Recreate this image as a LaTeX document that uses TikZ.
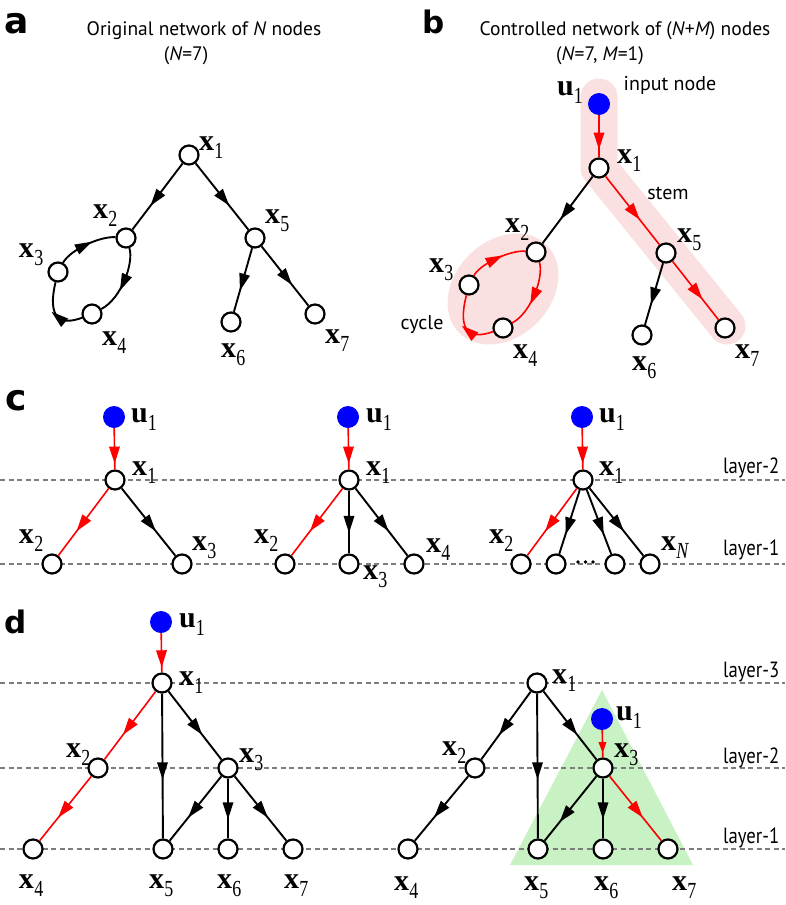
\documentclass[tikz,border=0pt]{standalone}
\usepackage{fontspec}
\usepackage{graphicx}
\setmainfont{Liberation Serif}
\newfontfamily\sansf{PT Sans}
\newfontfamily\heavyf{DejaVu Sans}
\usetikzlibrary{arrows.meta,decorations.markings}
\pgfdeclarelayer{bgA}
\pgfdeclarelayer{bgB}
\pgfsetlayers{bgA,bgB,main}
\definecolor{pinkc}{RGB}{250,224,224}
\definecolor{greenc}{RGB}{200,241,196}
\definecolor{dashc}{RGB}{125,125,125}
\newcommand{\sbx}[1]{\raisebox{-8pt}{\scalebox{0.78}[1]{\fontsize{23}{23}\selectfont #1}}}
\newcommand{\vx}[1]{{\fontsize{30}{30}\selectfont\bfseries x}\kern0.3pt\sbx{#1}}
\newcommand{\vu}[1]{{\fontsize{30}{30}\selectfont\bfseries u}\kern0.3pt\sbx{#1}}
\tikzset{
  nd/.style={circle, draw=black, line width=2.2pt, fill=white, minimum size=19pt, inner sep=0pt},
  inp/.style={circle, fill=blue, minimum size=22pt, inner sep=0pt},
  lab/.style={anchor=base west, inner sep=0pt, outer sep=0pt},
  ttl/.style={anchor=base, inner sep=0pt, font=\sansf\fontsize{19.5}{19.5}\selectfont},
  note/.style={inner sep=0pt, font=\sansf\fontsize{20}{20}\selectfont},
  lay/.style={anchor=base west, inner sep=0pt, font=\sansf\fontsize{22}{22}\selectfont},
  pla/.style={anchor=base west, inner sep=0pt, font=\heavyf\bfseries\fontsize{36}{36}\selectfont},
  plb/.style={anchor=base west, inner sep=0pt, font=\heavyf\bfseries\fontsize{31}{31}\selectfont},
  ahd/.style={decoration={markings, mark=at position #1 with {\fill (9pt,0pt) -- (-8pt,5.5pt) -- (-8pt,-5.5pt) -- cycle;}}, postaction={decorate}},
  ahs/.style={decoration={markings, mark=at position #1 with {\fill (6pt,0pt) -- (-5pt,4pt) -- (-5pt,-4pt) -- cycle;}}, postaction={decorate}},
  bedge/.style={black, line width=1.9pt, ahd=#1},
  bedge/.default=0.53,
  redge/.style={red, line width=1.6pt, ahd=#1},
  redge/.default=0.53,
  sredge/.style={red, line width=1.6pt, ahs=#1},
  sredge/.default=0.6,
  dline/.style={dashc, line width=1.2pt, dash pattern=on 5pt off 3.5pt},
  dotc/.style={circle, fill=black, minimum size=3.6pt, inner sep=0pt},
}
\begin{document}
\begin{tikzpicture}[x=1pt,y=-1pt]
\useasboundingbox (0,0) rectangle (785,905);

% ---------- panel letters and titles
\node[pla] (La) at (4,33) {a};
\node[plb] (Lb) at (422,33) {b};
\node[pla] (Lc) at (5,410) {c};
\node[plb] (Ld) at (4,633) {d};
\node[ttl] (ta1) at (204,35) {Original network of \textit{N} nodes};
\node[ttl] (ta2) at (186,60) {(\textit{N}=7)};
\node[ttl] (tb1) at (625,35) {Controlled network of (\textit{N}+\textit{M}) nodes};
\node[ttl] (tb2) at (600,60) {(\textit{N}=7, \textit{M}=1)};

% ---------- panel a
\node[nd] (a1) at (189,155) {};
\node[nd] (a2) at (126,238) {};
\node[nd] (a3) at (58,272) {};
\node[nd] (a4) at (92,314) {};
\node[nd] (a5) at (255,238) {};
\node[nd] (a6) at (231,322) {};
\node[nd] (a7) at (315,314) {};
\node[lab] (la1) at (199,150) {\vx{1}};
\node[lab] (la2) at (93,218) {\vx{2}};
\node[lab] (la3) at (19,257) {\vx{3}};
\node[lab] (la4) at (102,345) {\vx{4}};
\node[lab] (la5) at (265,223) {\vx{5}};
\node[lab] (la6) at (221,357) {\vx{6}};
\node[lab] (la7) at (325,343) {\vx{7}};
\draw[bedge] (a1) -- (a2);
\draw[bedge] (a1) -- (a5);
\draw[bedge] (a5) -- (a6);
\draw[bedge] (a5) -- (a7);
\draw[bedge=0.5] (a2) .. controls (134,262) and (122,298) .. (a4);
\draw[bedge=0.4] (a4) .. controls (60,326) and (47,318) .. (a3);
\draw[bedge=0.45] (a3) .. controls (70,250) and (100,236) .. (a2);

% ---------- panel b
\node[inp] (b0) at (599,104) {};
\node[nd] (b1) at (599,168) {};
\node[nd] (b2) at (536,252) {};
\node[nd] (b3) at (469,285) {};
\node[nd] (b4) at (503,328) {};
\node[nd] (b5) at (666,253) {};
\node[nd] (b6) at (642,335) {};
\node[nd] (b7) at (725,328) {};
\node[lab] (lb0) at (557,95) {\vu{1}};
\node[lab] (lb1) at (617,163) {\vx{1}};
\node[lab] (lb2) at (505,232) {\vx{2}};
\node[lab] (lb3) at (429,272) {\vx{3}};
\node[lab] (lb4) at (513,358) {\vx{4}};
\node[lab] (lb5) at (677,242) {\vx{5}};
\node[lab] (lb6) at (632,370) {\vx{6}};
\node[lab] (lb7) at (735,358) {\vx{7}};
\node[note] (inn) at (670,85) {input node};
\node[note] (stm) at (668,193) {stem};
\node[note] (cyc) at (422,325) {cycle};
\begin{pgfonlayer}{bgA}
  \draw[pinkc, line width=37pt, line cap=round, line join=round] ([yshift=7pt]b0.center) -- (b1.center) -- ([shift={(2pt,2pt)}]b7.center);
  \fill[pinkc, rotate around={45:(503,289)}] (503,289) ellipse [x radius=62pt, y radius=48pt];
\end{pgfonlayer}
\draw[redge=0.6] (b0) -- (b1);
\draw[bedge] (b1) -- (b2);
\draw[redge] (b1) -- (b5);
\draw[bedge] (b5) -- (b6);
\draw[redge] (b5) -- (b7);
\draw[redge=0.5] (b2) .. controls (544,276) and (532,312) .. (b4);
\draw[redge=0.4] (b4) .. controls (470,340) and (457,332) .. (b3);
\draw[redge=0.45] (b3) .. controls (480,264) and (510,250) .. (b2);

% ---------- dashed layer lines
\begin{pgfonlayer}{bgB}
  \draw[dline] (0,480) coordinate (cl2a) -- (785,480) coordinate (cl2b);
  \draw[dline] (0,564) coordinate (cl1a) -- (785,564) coordinate (cl1b);
  \draw[dline] (0,683) coordinate (dl3a) -- (785,683) coordinate (dl3b);
  \draw[dline] (0,768) coordinate (dl2a) -- (785,768) coordinate (dl2b);
  \draw[dline] (0,849) coordinate (dl1a) -- (785,849) coordinate (dl1b);
\end{pgfonlayer}

% ---------- panel c
\node[lay] (lc2) at (723,473) {\scalebox{0.85}[1]{layer-2}};
\node[lay] (lc1) at (723,555) {\scalebox{0.85}[1]{layer-1}};
% tree 1
\node[inp] (c1u) at (114,417) {};
\node[nd] (c1x1) at (115,480) {};
\node[nd] (c1x2) at (52,564) {};
\node[nd] (c1x3) at (182,564) {};
\node[lab] (lc1u) at (131,422) {\vu{1}};
\node[lab] (lc1x1) at (132,475) {\vx{1}};
\node[lab] (lc1x2) at (19,543) {\vx{2}};
\node[lab] (lc1x3) at (192,550) {\vx{3}};
\draw[redge=0.64] (c1u) -- (c1x1);
\draw[redge] (c1x1) -- (c1x2);
\draw[bedge] (c1x1) -- (c1x3);
% tree 2
\node[inp] (c2u) at (348,417) {};
\node[nd] (c2x1) at (349,480) {};
\node[nd] (c2x2) at (285,564) {};
\node[nd] (c2x3) at (349,564) {};
\node[nd] (c2x4) at (414,564) {};
\node[lab] (lc2u) at (366,422) {\vu{1}};
\node[lab] (lc2x1) at (366,475) {\vx{1}};
\node[lab] (lc2x2) at (254,543) {\vx{2}};
\node[lab] (lc2x3) at (363,579) {\vx{3}};
\node[lab] (lc2x4) at (426,552) {\vx{4}};
\draw[redge=0.64] (c2u) -- (c2x1);
\draw[redge] (c2x1) -- (c2x2);
\draw[bedge] (c2x1) -- (c2x3);
\draw[bedge] (c2x1) -- (c2x4);
% tree 3
\node[inp] (c3u) at (582,417) {};
\node[nd] (c3x1) at (583,480) {};
\node[nd] (c3x2) at (521,564) {};
\node[nd] (c3a) at (556,564) {};
\node[nd] (c3b) at (615,564) {};
\node[nd] (c3n) at (650,564) {};
\node[dotc] (dt1) at (578,562) {};
\node[dotc] (dt2) at (585.5,562) {};
\node[dotc] (dt3) at (593,562) {};
\node[lab] (lc3u) at (599,422) {\vu{1}};
\node[lab] (lc3x1) at (599,475) {\vx{1}};
\node[lab] (lc3x2) at (489,543) {\vx{2}};
\node[lab] (lc3xn) at (661,550) {\vx{\itshape N}};
\draw[redge=0.64] (c3u) -- (c3x1);
\draw[redge] (c3x1) -- (c3x2);
\draw[bedge=0.56] (c3x1) -- (c3a);
\draw[bedge=0.56] (c3x1) -- (c3b);
\draw[bedge=0.53] (c3x1) -- (c3n);

% ---------- panel d
\begin{pgfonlayer}{bgA}
  \fill[greenc] (602,690) coordinate (gt) -- (693,865) coordinate (gr) -- (510,865) coordinate (gl) -- cycle;
\end{pgfonlayer}
\node[lay] (ld3) at (723,677) {\scalebox{0.85}[1]{layer-3}};
\node[lay] (ld2) at (723,763) {\scalebox{0.85}[1]{layer-2}};
\node[lay] (ld1) at (723,843) {\scalebox{0.85}[1]{layer-1}};
% left
\node[inp] (d0) at (161,622) {};
\node[nd] (d1) at (162,683) {};
\node[nd] (d2) at (98,768) {};
\node[nd] (d3) at (228,768) {};
\node[nd] (d4) at (33,849) {};
\node[nd] (d5) at (163,849) {};
\node[nd] (d6) at (228,849) {};
\node[nd] (d7) at (293,849) {};
\node[lab] (ld0) at (179,627) {\vu{1}};
\node[lab] (ldx1) at (179,685) {\vx{1}};
\node[lab] (ldx2) at (66,757) {\vx{2}};
\node[lab] (ldx3) at (239,762) {\vx{3}};
\node[lab] (ldx4) at (19,888) {\vx{4}};
\node[lab] (ldx5) at (149,888) {\vx{5}};
\node[lab] (ldx6) at (217,888) {\vx{6}};
\node[lab] (ldx7) at (284,888) {\vx{7}};
\draw[redge=0.64] (d0) -- (d1);
\draw[redge] (d1) -- (d2);
\draw[redge] (d2) -- (d4);
\draw[bedge] (d1) -- (d5);
\draw[bedge] (d1) -- (d3);
\draw[bedge] (d3) -- (d5);
\draw[bedge] (d3) -- (d6);
\draw[bedge] (d3) -- (d7);
% right
\node[nd] (e1) at (537,683) {};
\node[nd] (e2) at (475,768) {};
\node[nd] (e3) at (603,768) {};
\node[inp] (e0) at (602,719) {};
\node[nd] (e4) at (408,849) {};
\node[nd] (e5) at (538,849) {};
\node[nd] (e6) at (603,849) {};
\node[nd] (e7) at (668,849) {};
\node[lab] (le1) at (552,683) {\vx{1}};
\node[lab] (le0) at (616,720) {\vu{1}};
\node[lab] (le2) at (442,755) {\vx{2}};
\node[lab] (le3) at (614,757) {\vx{3}};
\node[lab] (le4) at (394,890) {\vx{4}};
\node[lab] (le5) at (524,890) {\vx{5}};
\node[lab] (le6) at (594,890) {\vx{6}};
\node[lab] (le7) at (672,890) {\vx{7}};
\draw[bedge] (e1) -- (e2);
\draw[bedge] (e2) -- (e4);
\draw[bedge] (e1) -- (e5);
\draw[bedge] (e1) -- (e3);
\draw[sredge=0.62] (e0) -- (e3);
\draw[bedge=0.6] (e3) -- (e5);
\draw[bedge] (e3) -- (e6);
\draw[redge] (e3) -- (e7);
\end{tikzpicture}
\end{document}
